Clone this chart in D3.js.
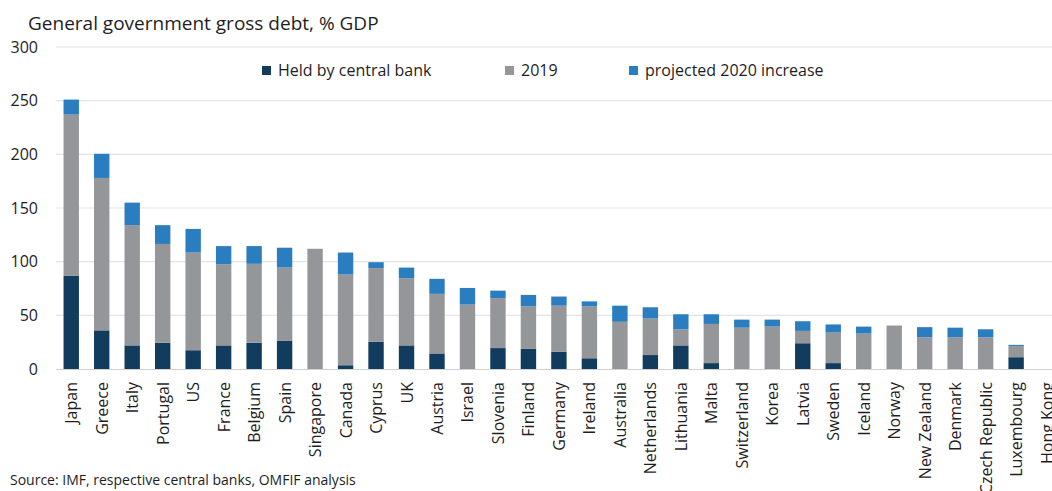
<!DOCTYPE html>
<meta charset="utf-8">
<script src="https://d3js.org/d3.v7.min.js"></script>
<style>
  body { margin: 0; background: #fff; }
  text { font-family: "Open Sans", sans-serif; fill: #1e1e1e; }
</style>
<div id="chart"></div>
<script>
// country order as on the x axis
const countries = ["Japan", "Greece", "Italy", "Portugal", "US", "France", "Belgium", "Spain",
  "Singapore", "Canada", "Cyprus", "UK", "Austria", "Israel", "Slovenia", "Finland", "Germany",
  "Ireland", "Australia", "Netherlands", "Lithuania", "Malta", "Switzerland", "Korea", "Latvia",
  "Sweden", "Iceland", "Norway", "New Zealand", "Denmark", "Czech Republic", "Luxembourg", "Hong Kong"];
// part of debt held by central bank
const heldByCB = [87, 36, 22, 24.5, 17.5, 22, 24.5, 26.5, 0, 3.5, 25.5, 22, 14.5, 0, 19.5, 19, 16,
  10, 0, 13, 22, 5.5, 0, 0, 24, 5.5, 0, 0, 0, 0, 0, 11, 0];
// total gross debt 2019
const debt2019 = [237, 178, 134, 116.5, 108.5, 97.5, 98, 94.5, 112, 88, 94, 84.5, 70, 60, 66, 58.5, 59,
  58.5, 44, 47, 37, 42, 38.5, 39.5, 35.5, 34, 33, 40.5, 29.5, 29.5, 29.5, 21.5, 0];
// projected increase in 2020
const increase2020 = [14, 22.5, 21, 17.5, 22, 17, 16.5, 18.5, 0, 20.5, 5.5, 10, 14, 15.5, 7, 10.5, 8.5,
  4.5, 15, 10.5, 14, 9, 7.5, 6.5, 9, 7.5, 6.5, 0, 9.5, 9, 7.5, 1, 0];
const seriesNames = ["Held by central bank", "2019", "projected 2020 increase"];
const yTicks = [0, 50, 100, 150, 200, 250, 300];

const colors = ["#123c5e", "#95969a", "#2a7dbf"];

const width = 1052, height = 491;
const margin = {top: 47, left: 56, bottom: 122};

const rows = countries.map((c, i) => ({
  country: c,
  cb: heldByCB[i],
  rest: Math.max(0, debt2019[i] - heldByCB[i]),
  inc: increase2020[i]
}));

const svg = d3.select("#chart").append("svg")
  .attr("width", width)
  .attr("height", height);

const x = d3.scaleBand()
  .domain(countries)
  .range([margin.left, margin.left + 30.48 * countries.length])
  .paddingInner(0.495)
  .paddingOuter(0.2475);

const y = d3.scaleLinear()
  .domain([0, 300])
  .range([height - margin.bottom, margin.top]);

// gridlines
svg.append("g")
  .selectAll("line")
  .data(yTicks.slice(1))
  .join("line")
    .attr("x1", margin.left)
    .attr("x2", width)
    .attr("y1", d => y(d))
    .attr("y2", d => y(d))
    .attr("stroke", "#e3e3e3")
    .attr("stroke-width", 1.2);

// y tick labels
svg.append("g")
  .selectAll("text")
  .data(yTicks)
  .join("text")
    .attr("x", 38)
    .attr("y", d => y(d))
    .attr("dy", "0.35em")
    .attr("text-anchor", "end")
    .style("font-size", "16px")
    .text(d => d);

// stacked bars
const stack = d3.stack().keys(["cb", "rest", "inc"]);
const layers = stack(rows);

svg.append("g")
  .selectAll("g")
  .data(layers)
  .join("g")
    .attr("fill", (d, i) => colors[i])
  .selectAll("rect")
  .data(d => d)
  .join("rect")
    .attr("x", d => x(d.data.country))
    .attr("width", x.bandwidth())
    .attr("y", d => y(d[1]))
    .attr("height", d => y(d[0]) - y(d[1]));

// baseline
svg.append("line")
  .attr("x1", margin.left)
  .attr("x2", width)
  .attr("y1", y(0) + 0.5)
  .attr("y2", y(0) + 0.5)
  .attr("stroke", "#d0d0d0")
  .attr("stroke-width", 1.2);

// x labels, rotated
svg.append("g")
  .selectAll("text")
  .data(countries)
  .join("text")
    .attr("transform", d => `translate(${x(d) + x.bandwidth() / 2 + 6},${y(0) + 13}) rotate(-90)`)
    .attr("text-anchor", "end")
    .style("font-size", "16px")
    .text(d => d);

// title
svg.append("text")
  .attr("x", 28)
  .attr("y", 30)
  .style("font-size", "19px")
  .text("General government gross debt, % GDP");

// legend
const legendX = [262, 505, 629];
const legend = svg.append("g")
  .selectAll("g")
  .data(seriesNames)
  .join("g")
    .attr("transform", (d, i) => `translate(${legendX[i]},66)`);

legend.append("rect")
  .attr("width", 9)
  .attr("height", 9)
  .attr("fill", (d, i) => colors[i]);

legend.append("text")
  .attr("x", 16)
  .attr("y", 4.5)
  .attr("dy", "0.35em")
  .style("font-size", "16px")
  .text(d => d);

// source
svg.append("text")
  .attr("x", 10)
  .attr("y", 485)
  .style("font-size", "14px")
  .text("Source: IMF, respective central banks, OMFIF analysis");
</script>
